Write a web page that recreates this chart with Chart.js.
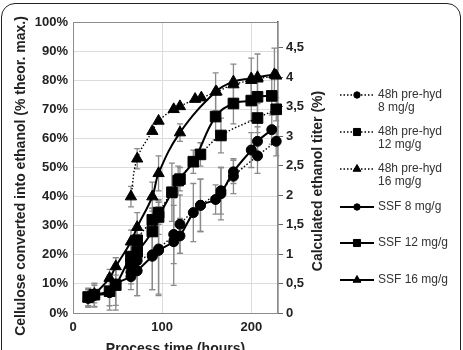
<!DOCTYPE html>
<html>
<head>
<meta charset="utf-8">
<script src="https://cdn.jsdelivr.net/npm/chart.js@4.4.0/dist/chart.umd.min.js"></script>
<style>
html, body { margin: 0; padding: 0; background: #fff; overflow: hidden; }
#wrap { position: relative; width: 463px; height: 350px; }
#frame { position: absolute; left: 1px; top: 3px; width: 460px; height: 400px; border: 1.5px solid #222; border-radius: 14px; box-sizing: border-box; pointer-events: none; }
</style>
</head>
<body>
<div id="wrap"><canvas id="chart" width="463" height="350"></canvas><div id="frame"></div></div>
<script>
// Series: time (h), conversion (%), error (+/- %)
const ssf8X = [17, 24, 41, 48, 65, 72, 89, 96, 113, 120, 135, 143, 160, 166, 180, 200, 207, 223];
const ssf8Y = [5, 6, 7, 10, 12.5, 14.5, 19.5, 21.5, 24.5, 26.5, 34.5, 37, 39, 41, 48.5, 56, 59, 63];
const ssf8Err = [3, 4, 6, 9, 4.5, 8.5, 11.5, 15, 15, 6, 10, 9, 5, 9, 4, 6, 5, 5];

const pre8X = [65, 72, 89, 96, 113, 120, 143, 166, 180, 207, 228];
const pre8Y = [14, 18, 20, 22, 27, 30.5, 37, 42, 47, 54, 59];
const pre8Err = [4, 12, 12, 16, 10, 10, 9, 8, 6, 6, 5];

const ssf12X = [17, 24, 41, 48, 65, 72, 89, 96, 111, 118, 135, 160, 180, 200, 207, 223];
const ssf12Y = [5.5, 6.3, 7.5, 9.6, 19.4, 21, 28, 33, 41.5, 45.5, 52, 67.5, 72, 73, 74.3, 74.6];
const ssf12Err = [3, 4, 5, 7, 5, 6, 8, 6, 10, 5, 4, 8, 7, 7, 7, 6];

const pre12X = [65, 72, 89, 96, 120, 143, 166, 207, 228];
const pre12Y = [17, 25, 32, 34.5, 46, 54.5, 61, 67, 70];
const pre12Err = [4, 5, 4, 4, 4, 4, 6, 5, 4];

const ssf16X = [17, 24, 41, 48, 65, 72, 89, 96, 120, 160, 180, 200, 207, 226];
const ssf16Y = [5, 6.5, 12, 16, 24.5, 29.5, 40, 48, 62, 76, 79.5, 80.6, 81, 82];
const ssf16Err = [3, 3, 3, 3, 4, 5, 5, 6, 3, 6.5, 6, 7, 8, 9];

const pre16X = [65, 72, 89, 96, 113, 120, 137, 144, 161, 180, 200, 207, 228];
const pre16Y = [40, 53, 62.5, 66, 70, 71, 73.5, 74, 76, 78.5, 80, 80.5, 81.5];
const pre16Err = [3.5, 3.5, 0, 0, 0, 0, 0, 0, 0, 0, 0, 0, 0];

const seriesNames = [
  ['48h pre-hyd', '8 mg/g'],
  ['48h pre-hyd', '12 mg/g'],
  ['48h pre-hyd', '16 mg/g'],
  ['SSF 8 mg/g'],
  ['SSF 12 mg/g'],
  ['SSF 16 mg/g']
];

const xTicks = [0, 100, 200];
const titerMax = 4.94; // ethanol titer (%) at 100 % conversion

const FONT = '"Liberation Sans", Arial, sans-serif';

function pts(xs, ys) {
  return xs.map((x, i) => ({ x: x, y: ys[i] }));
}

function makeSet(names, xs, ys, errs, style, dotted) {
  return {
    label: names.join(' '),
    data: pts(xs, ys),
    errors: errs,
    showLine: true,
    borderColor: '#000',
    backgroundColor: '#000',
    borderWidth: dotted ? 1.4 : 2,
    borderDash: dotted ? [1.5, 2] : [],
    tension: 0.4,
    pointStyle: style,
    pointRadius: style === 'rect' ? 7.5 : (style === 'triangle' ? 6.5 : 5),
    pointBorderWidth: 1,
    pointBackgroundColor: '#000',
    pointBorderColor: '#000',
    clip: false,
    yAxisID: 'y'
  };
}

// Error bars drawn behind the markers
const errorBars = {
  id: 'errorBars',
  beforeDatasetsDraw(chart) {
    const { ctx, scales: { x, y } } = chart;
    ctx.save();
    ctx.strokeStyle = '#8a8a8a';
    ctx.lineWidth = 1.3;
    chart.data.datasets.forEach(ds => {
      ds.data.forEach((p, i) => {
        const e = ds.errors[i];
        if (!e) return;
        const px = x.getPixelForValue(p.x);
        const top = y.getPixelForValue(p.y + e);
        const bot = y.getPixelForValue(Math.max(0, p.y - e));
        ctx.beginPath();
        ctx.moveTo(px, top); ctx.lineTo(px, bot);
        ctx.moveTo(px - 3, top); ctx.lineTo(px + 3, top);
        ctx.moveTo(px - 3, bot); ctx.lineTo(px + 3, bot);
        ctx.stroke();
      });
    });
    ctx.restore();
  }
};

function verticalText(ctx, text, x, y) {
  ctx.save();
  ctx.fillStyle = '#222';
  ctx.font = 'bold 14px ' + FONT;
  ctx.textAlign = 'center';
  ctx.textBaseline = 'middle';
  ctx.translate(x, y);
  ctx.rotate(-Math.PI / 2);
  ctx.fillText(text, 0, 0);
  ctx.restore();
}

// Plot border, vertical axis titles and the legend on the right
const extras = {
  id: 'extras',
  beforeDatasetsDraw(chart) {
    const { ctx, chartArea: a } = chart;
    ctx.save();
    ctx.strokeStyle = '#8c8c8c';
    ctx.lineWidth = 1;
    ctx.strokeRect(a.left + 0.5, a.top + 0.5, a.right - a.left - 1, a.bottom - a.top);
    ctx.restore();
  },
  afterDraw(chart) {
    const ctx = chart.ctx;
    verticalText(ctx, 'Cellulose converted into ethanol (% theor. max.)', 21, 176);
    verticalText(ctx, 'Calculated ethanol titer (%)', 318, 181);

    const rows = [95, 132, 169, 207, 243, 280];
    const radii = { circle: 3.2, rect: 5, triangle: 4.5 };
    chart.data.datasets.forEach((ds, i) => {
      const yy = rows[i];
      ctx.save();
      ctx.strokeStyle = '#000';
      ctx.fillStyle = '#000';
      ctx.lineWidth = ds.borderWidth;
      ctx.setLineDash(ds.borderDash);
      ctx.beginPath();
      ctx.moveTo(340, yy); ctx.lineTo(374, yy);
      ctx.stroke();
      ctx.setLineDash([]);
      ctx.lineWidth = 1;
      Chart.helpers.drawPoint(ctx, { pointStyle: ds.pointStyle, radius: radii[ds.pointStyle], borderWidth: 1, rotation: 0 }, 357, yy);
      ctx.fillStyle = '#333';
      ctx.font = '12px ' + FONT;
      ctx.textAlign = 'left';
      ctx.textBaseline = 'middle';
      seriesNames[i].forEach((line, k) => ctx.fillText(line, 378, yy + k * 13));
      ctx.restore();
    });
  }
};

new Chart(document.getElementById('chart'), {
  type: 'scatter',
  data: {
    datasets: [
      makeSet(seriesNames[0], pre8X, pre8Y, pre8Err, 'circle', true),
      makeSet(seriesNames[1], pre12X, pre12Y, pre12Err, 'rect', true),
      makeSet(seriesNames[2], pre16X, pre16Y, pre16Err, 'triangle', true),
      makeSet(seriesNames[3], ssf8X, ssf8Y, ssf8Err, 'circle', false),
      makeSet(seriesNames[4], ssf12X, ssf12Y, ssf12Err, 'rect', false),
      makeSet(seriesNames[5], ssf16X, ssf16Y, ssf16Err, 'triangle', false)
    ]
  },
  options: {
    responsive: false,
    animation: false,
    layout: { padding: { top: 22, right: 138, bottom: 0, left: 0 } },
    plugins: { legend: { display: false }, tooltip: { enabled: false } },
    scales: {
      x: {
        type: 'linear',
        min: 0,
        max: 230,
        afterBuildTicks: s => { s.ticks = xTicks.map(v => ({ value: v })); },
        afterFit: s => { s.height = 37; },
        ticks: { color: '#222', font: { family: FONT, size: 13, weight: 'bold' }, padding: 7 },
        grid: { color: '#dcdcdc', drawTicks: false },
        border: { color: '#8c8c8c' },
        title: { display: true, text: 'Process time (hours)', color: '#222', font: { family: FONT, size: 14, weight: 'bold' }, padding: { top: 0, bottom: -8 } }
      },
      y: {
        position: 'left',
        min: 0,
        max: 100,
        afterFit: s => { s.width = 73; },
        ticks: { stepSize: 10, callback: v => v + '%', color: '#222', font: { family: FONT, size: 13, weight: 'bold' }, padding: 5 },
        grid: { color: '#dcdcdc', drawTicks: false },
        border: { color: '#8c8c8c' }
      },
      y2: {
        position: 'right',
        min: 0,
        max: titerMax,
        afterBuildTicks: s => { s.ticks = s.ticks.filter(t => t.value <= 4.5 + 1e-9); },
        afterFit: s => { s.width = 47; },
        ticks: { stepSize: 0.5, callback: v => String(v).replace('.', ','), color: '#222', font: { family: FONT, size: 13, weight: 'bold' }, padding: 3 },
        grid: { drawOnChartArea: false, drawTicks: true, tickLength: 5, color: '#666' },
        border: { color: '#555', width: 1.5 }
      }
    }
  },
  plugins: [errorBars, extras]
});
</script>
</body>
</html>
